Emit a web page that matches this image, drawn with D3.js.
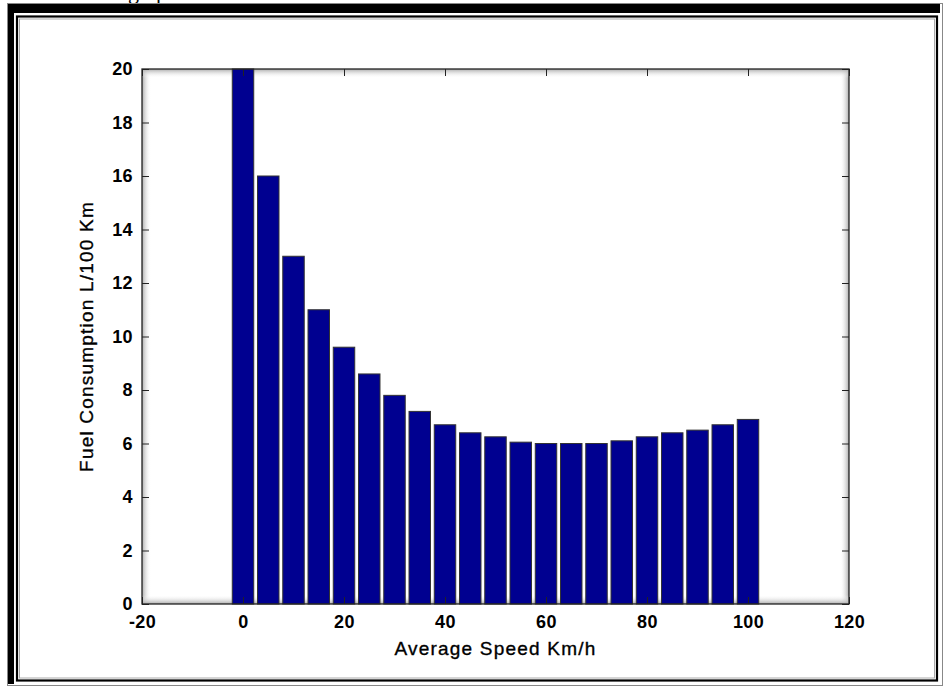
<!DOCTYPE html>
<html>
<head>
<meta charset="utf-8">
<script src="https://cdn.jsdelivr.net/npm/d3@7"></script>
<style>
  body { margin: 0; background: #fff; }
  svg { display: block; }
  text { font-family: "Liberation Sans", Arial, sans-serif; }
</style>
</head>
<body>
<svg id="chart" width="944" height="687"></svg>
<script>
// average speed (km/h) and fuel consumption (L/100 km)
const speeds = [0, 5, 10, 15, 20, 25, 30, 35, 40, 45, 50, 55, 60, 65, 70, 75, 80, 85, 90, 95, 100];
const consumption = [20, 16, 13, 11, 9.6, 8.6, 7.8, 7.2, 6.7, 6.4, 6.25, 6.05, 6.0, 6.0, 6.0, 6.1, 6.25, 6.4, 6.5, 6.7, 6.9];
const xTicks = [-20, 0, 20, 40, 60, 80, 100, 120];
const yTicks = [0, 2, 4, 6, 8, 10, 12, 14, 16, 18, 20];

const svg = d3.select('#chart');
const plot = { left: 142, top: 69, right: 849, bottom: 604 };

const x = d3.scaleLinear().domain([-20, 120]).range([plot.left, plot.right]);
const y = d3.scaleLinear().domain([0, 20]).range([plot.bottom, plot.top]);
const barW = 4.25;

// caption of the page above, cut off by the crop as in the scan
svg.append('text').attr('x', 128).attr('y', -1)
  .style('font-family', '"Liberation Serif", "Times New Roman", serif')
  .style('font-size', '22px').text('graph');

// page frame (double border)
svg.append('rect').attr('x', 7).attr('y', 3).attr('width', 7).attr('height', 681).attr('fill', '#000');
svg.append('rect').attr('x', 7).attr('y', 3).attr('width', 933).attr('height', 10).attr('fill', '#000');
svg.append('rect').attr('x', 7.5).attr('y', 3.5).attr('width', 935).attr('height', 682)
  .attr('fill', 'none').attr('stroke', '#888').attr('stroke-width', 1);
svg.append('rect').attr('x', 17).attr('y', 16.5).attr('width', 920).attr('height', 664)
  .attr('fill', 'none').attr('stroke', '#000').attr('stroke-width', 2.2);
svg.append('rect').attr('x', 19.5).attr('y', 19).attr('width', 915).attr('height', 659)
  .attr('fill', 'none').attr('stroke', '#aaa').attr('stroke-width', 1);

// inner shadow of the axes box
const defs = svg.append('defs');
const sides = [
  { id: 'shL', x1: 0, y1: 0, x2: 1, y2: 0 },
  { id: 'shR', x1: 1, y1: 0, x2: 0, y2: 0 },
  { id: 'shT', x1: 0, y1: 0, x2: 0, y2: 1 },
  { id: 'shB', x1: 0, y1: 1, x2: 0, y2: 0 }
];
sides.forEach(s => {
  const g = defs.append('linearGradient').attr('id', s.id)
    .attr('x1', s.x1).attr('y1', s.y1).attr('x2', s.x2).attr('y2', s.y2);
  g.append('stop').attr('offset', 0).attr('stop-color', '#aaa');
  g.append('stop').attr('offset', 1).attr('stop-color', '#fff').attr('stop-opacity', 0);
});
const pw = plot.right - plot.left, ph = plot.bottom - plot.top, sh = 9;
svg.append('rect').attr('x', plot.left).attr('y', plot.top).attr('width', sh).attr('height', ph).attr('fill', 'url(#shL)');
svg.append('rect').attr('x', plot.right - sh).attr('y', plot.top).attr('width', sh).attr('height', ph).attr('fill', 'url(#shR)');
svg.append('rect').attr('x', plot.left).attr('y', plot.top).attr('width', pw).attr('height', sh).attr('fill', 'url(#shT)');
svg.append('rect').attr('x', plot.left).attr('y', plot.bottom - sh).attr('width', pw).attr('height', sh).attr('fill', 'url(#shB)');

// bars
svg.append('g').selectAll('rect')
  .data(speeds.map((s, i) => ({ s, v: consumption[i] })))
  .join('rect')
  .attr('x', d => x(d.s - barW / 2))
  .attr('y', d => y(d.v))
  .attr('width', d => x(d.s + barW / 2) - x(d.s - barW / 2))
  .attr('height', d => y(0) - y(d.v))
  .attr('fill', '#000090')
  .attr('stroke', '#333')
  .attr('stroke-width', 1);

// axes, ticks pointing inward on all four sides
const fmt = d => String(d);
const axL = svg.append('g').attr('transform', `translate(${plot.left},0)`)
  .call(d3.axisLeft(y).tickValues(yTicks).tickFormat(fmt).tickSizeInner(-7).tickSizeOuter(0).tickPadding(9));
const axB = svg.append('g').attr('transform', `translate(0,${plot.bottom})`)
  .call(d3.axisBottom(x).tickValues(xTicks).tickFormat(fmt).tickSizeInner(-7).tickSizeOuter(0).tickPadding(11));
svg.append('g').attr('transform', `translate(${plot.right},0)`)
  .call(d3.axisRight(y).tickValues(yTicks).tickFormat('').tickSizeInner(-7).tickSizeOuter(0));
svg.append('g').attr('transform', `translate(0,${plot.top})`)
  .call(d3.axisTop(x).tickValues(xTicks).tickFormat('').tickSizeInner(-7).tickSizeOuter(0));

svg.selectAll('.domain').remove();
svg.selectAll('.tick line').attr('stroke', '#222');
[axL, axB].forEach(a => a.selectAll('text')
  .attr('fill', '#000')
  .style('font-size', '18px')
  .style('font-weight', 'bold')
  .style('letter-spacing', '0.4px')
  .style('font-family', '"Liberation Sans", Arial, sans-serif'));

// axes box
svg.append('rect').attr('x', plot.left).attr('y', plot.top).attr('width', pw).attr('height', ph)
  .attr('fill', 'none').attr('stroke', '#222').attr('stroke-width', 1.3);

// axis titles
const titleStyle = sel => sel.attr('text-anchor', 'middle')
  .style('font-size', '19px').style('letter-spacing', '1.2px')
  .attr('stroke', '#000').attr('stroke-width', 0.35);
svg.append('text').attr('x', (plot.left + plot.right) / 2).attr('y', 655)
  .call(titleStyle)
  .text('Average Speed Km/h');
svg.append('text').attr('transform', `translate(93,${(plot.top + plot.bottom) / 2}) rotate(-90)`)
  .call(titleStyle)
  .text('Fuel Consumption L/100 Km');
</script>
</body>
</html>
